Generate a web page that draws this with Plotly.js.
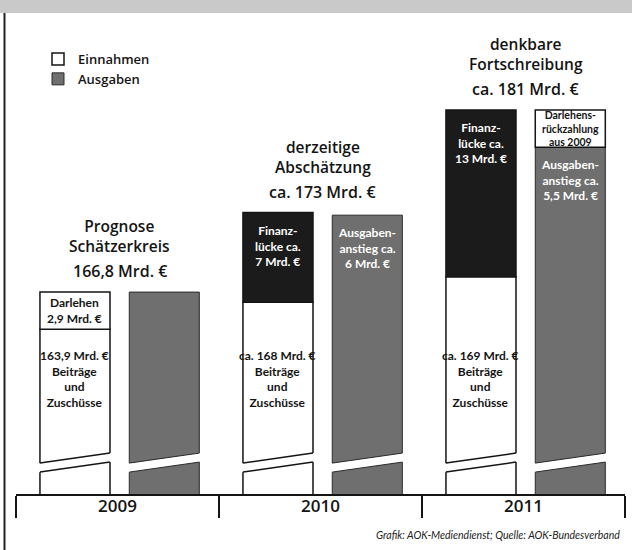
<!DOCTYPE html>
<html><head><meta charset="utf-8">
<script src="https://cdn.plot.ly/plotly-3.0.1.min.js"></script>
<style>html,body{margin:0;padding:0;background:#fff;} #chart{width:632px;height:550px;}</style>
</head><body><div id="chart"></div>
<script>
// ---------- data ----------
const years = ['2009', '2010', '2011'];
const scenarioNames = ['Prognose<br>Schätzerkreis', 'derzeitige<br>Abschätzung', 'denkbare<br>Fortschreibung'];
const scenarioTotals = ['166,8 Mrd. €', 'ca. 173 Mrd. €', 'ca. 181 Mrd. €'];
// Einnahmen
const beitraege = [163.9, 166, 168];
const beitraegeLabels = ['163,9 Mrd. €', 'ca. 168 Mrd. €', 'ca. 169 Mrd. €'];
const darlehen = [2.9, null, null];
const darlehenLabels = ['2,9 Mrd. €', null, null];
const finanzluecke = [null, 7, 13];
const finanzlueckeLabels = [null, '7 Mrd. €', '13 Mrd. €'];
// Ausgaben
const ausgaben = [166.8, 172.8, 178.1];
const ausgabenAnstiegLabels = [null, '6 Mrd. €', '5,5 Mrd. €'];
const darlehensRueckzahlung = [null, null, 2.9];

// ---------- geometry / style ----------
const W = 632, H = 550;
const M = {l: 16, r: 7, t: 13, b: 56};
const PW = W - M.l - M.r, PH = H - M.t - M.b;
const px2x = p => (p - M.l) / PW;
const py2y = p => 1 - (p - M.t) / PH;
const BAR_W = 0.345, OFF_E = -0.382, OFF_A = 0.058;
const Y_RANGE = [151.05, 188.57];
const BREAK = {lo: 152.76, gap: 0.70, rise: 0.78};
const F_HEAD = "'Open Sans', 'Noto Sans', sans-serif";
const F_BAR = "Lato, Roboto, sans-serif";
const INK = '#141414';
const GRAY_PATTERN = {shape: '.', fillmode: 'replace', bgcolor: '#565656', fgcolor: '#8e8e8e', size: 2, solidity: 0.5};

const barCommon = {type: 'bar', x: years, width: BAR_W, hoverinfo: 'skip'};
const traces = [
  Object.assign({}, barCommon, {name: 'Einnahmen', y: beitraege, offset: OFF_E,
    marker: {color: '#ffffff', line: {color: INK, width: 1.5}}}),
  Object.assign({}, barCommon, {name: 'Ausgaben', y: ausgaben, offset: OFF_A,
    marker: {color: '#6a6a6a', pattern: GRAY_PATTERN, line: {color: '#2a2a2a', width: 1}}}),
  Object.assign({}, barCommon, {name: 'Darlehen', y: darlehen, base: beitraege, offset: OFF_E, showlegend: false,
    marker: {color: '#ffffff', line: {color: INK, width: 1.5}}}),
  Object.assign({}, barCommon, {name: 'Finanzlücke', y: finanzluecke, base: beitraege, offset: OFF_E, showlegend: false,
    marker: {color: '#1b1b1b', line: {color: INK, width: 1.5}}}),
  Object.assign({}, barCommon, {name: 'Darlehensrückzahlung', y: darlehensRueckzahlung, base: ausgaben, offset: OFF_A, showlegend: false,
    marker: {color: '#ffffff', line: {color: INK, width: 1.5}}})
];

// ---------- annotations ----------
const ann = [];
const cE = OFF_E + BAR_W / 2, cA = OFF_A + BAR_W / 2, cG = (cE + cA) / 2;
const barFont = (c, s) => ({family: F_BAR, size: s || 12, color: c, weight: 'bold'});
years.forEach((yr, i) => {
  const top = Math.max(beitraege[i] + (darlehen[i] || 0) + (finanzluecke[i] || 0), ausgaben[i] + (darlehensRueckzahlung[i] || 0));
  ann.push({x: i + cG, y: top, xref: 'x', yref: 'y', yanchor: 'bottom', yshift: 8, showarrow: false,
    text: scenarioTotals[i], font: {family: F_HEAD, size: 16, color: INK, weight: 600}});
  ann.push({x: i + cG, y: top, xref: 'x', yref: 'y', yanchor: 'bottom', yshift: 33, showarrow: false,
    text: scenarioNames[i], font: {family: F_HEAD, size: 15.5, color: INK, weight: 600}});
  // Beiträge label
  ann.push({x: i + cE, y: Math.min(beitraege[i], 162.6), xref: 'x', yref: 'y', yanchor: 'top', showarrow: false,
    text: beitraegeLabels[i] + '<br>Beiträge<br>und<br>Zuschüsse', font: barFont(INK)});
  if (darlehen[i] != null) {
    ann.push({x: i + cE, y: beitraege[i] + darlehen[i] / 2, xref: 'x', yref: 'y', yanchor: 'middle', showarrow: false,
      text: 'Darlehen<br>' + darlehenLabels[i], font: barFont(INK)});
  }
  if (finanzluecke[i] != null) {
    ann.push({x: i + cE, y: beitraege[i] + finanzluecke[i], xref: 'x', yref: 'y', yanchor: 'top', yshift: -8, showarrow: false,
      text: 'Finanz-<br>lücke ca.<br>' + finanzlueckeLabels[i], font: barFont('#ffffff')});
  }
  if (ausgabenAnstiegLabels[i] != null) {
    ann.push({x: i + cA, y: ausgaben[i], xref: 'x', yref: 'y', yanchor: 'top', yshift: -8, showarrow: false,
      text: 'Ausgaben-<br>anstieg ca.<br>' + ausgabenAnstiegLabels[i], font: barFont('#ffffff')});
  }
  if (darlehensRueckzahlung[i] != null) {
    ann.push({x: i + cA, y: ausgaben[i] + darlehensRueckzahlung[i] / 2, xref: 'x', yref: 'y', yanchor: 'middle', showarrow: false,
      text: 'Darlehens-<br>rückzahlung<br>aus 2009', font: barFont(INK, 10.5)});
  }
});
ann.push({x: px2x(622), y: py2y(535), xref: 'paper', yref: 'paper', xanchor: 'right', yanchor: 'middle', showarrow: false,
  text: '<i>Grafik: AOK-Mediendienst; Quelle: AOK-Bundesverband</i>', font: {family: F_BAR, size: 10.5, color: '#222'}});

// ---------- shapes (frame + axis breaks) ----------
const shapes = [
  {type: 'rect', xref: 'paper', yref: 'paper', x0: px2x(0), x1: px2x(W), y0: py2y(13), y1: py2y(0),
   fillcolor: '#c9c9c9', line: {width: 0}},
  {type: 'line', xref: 'paper', yref: 'paper', x0: px2x(4.5), x1: px2x(4.5), y0: py2y(13), y1: py2y(H),
   line: {color: '#222', width: 2}}
];
years.forEach((yr, i) => {
  [[OFF_E, INK, 1.5], [OFF_A, '#2a2a2a', 1]].forEach(([off, lc, lw]) => {
    const L = i + off, R = L + BAR_W, e = 0.012;
    const slope = BREAK.rise / BAR_W;
    const lo = x => BREAK.lo + (x - L) * slope;
    const hi = x => lo(x) + BREAK.gap;
    shapes.push({type: 'path', xref: 'x', yref: 'y', fillcolor: '#ffffff', line: {width: 0},
      path: `M${L - e},${lo(L - e)} L${R + e},${lo(R + e)} L${R + e},${hi(R + e)} L${L - e},${hi(L - e)} Z`});
    shapes.push({type: 'line', xref: 'x', yref: 'y', x0: L, y0: lo(L), x1: R, y1: lo(R), line: {color: lc, width: lw}});
    shapes.push({type: 'line', xref: 'x', yref: 'y', x0: L, y0: hi(L), x1: R, y1: hi(R), line: {color: lc, width: lw}});
  });
});

const layout = {
  width: W, height: H, margin: M,
  paper_bgcolor: '#ffffff', plot_bgcolor: '#ffffff',
  barmode: 'overlay',
  showlegend: true,
  legend: {x: px2x(38), y: py2y(44), xanchor: 'left', yanchor: 'top', bgcolor: 'rgba(0,0,0,0)',
    font: {family: F_HEAD, size: 13, color: INK, weight: 600}, traceorder: 'normal', tracegroupgap: 0},
  xaxis: {type: 'category', range: [-0.5, 2.5], showline: true, linecolor: INK, linewidth: 2,
    ticks: 'outside', tickson: 'boundaries', ticklen: 22, tickwidth: 2, tickcolor: INK,
    tickfont: {family: F_HEAD, size: 17, color: INK, weight: 600}, ticklabelstandoff: -4,
    showgrid: false, zeroline: false, fixedrange: true},
  yaxis: {visible: false, range: Y_RANGE, fixedrange: true, showgrid: false, zeroline: false},
  annotations: ann,
  shapes: shapes
};

Plotly.newPlot('chart', traces, layout, {displayModeBar: false, staticPlot: true});
</script>
</body></html>
